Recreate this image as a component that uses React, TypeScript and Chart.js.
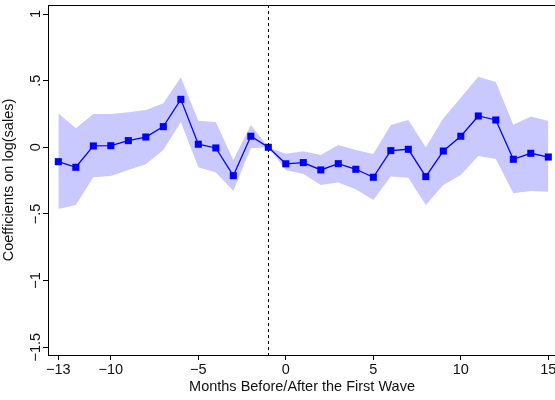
import React, { useEffect, useRef } from "react";
import { Chart, registerables } from "chart.js";

Chart.register(...registerables);

const months = [-13, -12, -11, -10, -9, -8, -7, -6, -5, -4, -3, -2, -1, 0, 1, 2, 3, 4, 5, 6, 7, 8, 9, 10, 11, 12, 13, 14, 15];
const coef = [-0.108, -0.15, 0.01, 0.012, 0.05, 0.077, 0.155, 0.36, 0.023, -0.005, -0.213, 0.083, 0, -0.124, -0.115, -0.17, -0.123, -0.165, -0.225, -0.025, -0.015, -0.22, -0.028, 0.083, 0.235, 0.205, -0.09, -0.045, -0.073];
const ciUpper = [0.255, 0.143, 0.25, 0.25, 0.263, 0.28, 0.33, 0.525, 0.2, 0.19, -0.095, 0.167, 0, -0.048, -0.03, -0.058, 0.017, -0.02, -0.05, 0.167, 0.205, 0.0, 0.218, 0.372, 0.53, 0.49, 0.17, 0.232, 0.197];
const ciLower = [-0.463, -0.433, -0.225, -0.215, -0.17, -0.128, -0.02, 0.19, -0.15, -0.19, -0.326, -0.008, 0, -0.17, -0.2, -0.283, -0.265, -0.315, -0.395, -0.22, -0.228, -0.433, -0.283, -0.208, -0.065, -0.088, -0.345, -0.328, -0.333];
const xTickValues = [-13, -10, -5, 0, 5, 10, 15];
const xTickLabels = ["\u221213", "\u221210", "\u22125", "0", "5", "10", "15"];
const yTickValues = [1, 0.5, 0, -0.5, -1, -1.5];
const yTickLabels = ["1", ".5", "0", "\u2212.5", "\u22121", "\u22121.5"];
const referenceMonth = -1;
const xTitle = "Months Before/After the First Wave";
const yTitle = "Coefficients on log(sales)";

const FONT_FAMILY = '"Liberation Sans", Arial, Helvetica, sans-serif';
const FONT_SIZE = 14.5;
const TEXT_COLOR = "#111";

export default function App() {
  const ref = useRef<HTMLCanvasElement | null>(null);

  useEffect(() => {
    const canvas = ref.current;
    if (!canvas) return;

    const pts = (arr: number[]) => months.map((m, i) => ({ x: m, y: arr[i] }));

    const overlay = {
      id: "overlay",
      afterDatasetsDraw(chart: any) {
        const { ctx, chartArea, scales } = chart;
        const xs = scales.x;
        ctx.save();
        const px = Math.round(xs.getPixelForValue(referenceMonth)) + 0.5;
        ctx.strokeStyle = "#000";
        ctx.lineWidth = 1;
        ctx.setLineDash([3, 3]);
        ctx.beginPath();
        ctx.moveTo(px, chartArea.top);
        ctx.lineTo(px, chartArea.bottom);
        ctx.stroke();
        ctx.setLineDash([]);
        ctx.restore();
      },
      afterDraw(chart: any) {
        const { ctx, scales } = chart;
        const ys = scales.y;
        ctx.save();
        ctx.font = FONT_SIZE + "px " + FONT_FAMILY;
        ctx.fillStyle = TEXT_COLOR;
        ctx.textAlign = "center";
        ctx.textBaseline = "middle";
        yTickValues.forEach((v, i) => {
          const py = ys.getPixelForValue(v);
          ctx.save();
          ctx.translate(36, py);
          ctx.rotate(-Math.PI / 2);
          ctx.fillText(yTickLabels[i], 0, 0);
          ctx.restore();
        });
        ctx.restore();
      },
    };

    const chart = new Chart(canvas, {
      type: "line",
      data: {
        datasets: [
          {
            label: "coef",
            data: pts(coef),
            borderColor: "#0000ff",
            backgroundColor: "#0000ff",
            borderWidth: 1.3,
            pointStyle: "rect",
            pointRadius: 5,
            pointBorderWidth: 0,
            pointBackgroundColor: "#0000ff",
            tension: 0,
            fill: false,
          },
          {
            label: "upper",
            data: pts(ciUpper),
            borderWidth: 0,
            borderColor: "rgba(0,0,0,0)",
            pointRadius: 0,
            tension: 0,
            fill: "+1",
            backgroundColor: "rgba(0,0,255,0.21)",
          },
          {
            label: "lower",
            data: pts(ciLower),
            borderWidth: 0,
            borderColor: "rgba(0,0,0,0)",
            pointRadius: 0,
            tension: 0,
            fill: false,
          },
        ],
      },
      options: {
        responsive: false,
        animation: false,
        devicePixelRatio: 1,
        layout: { padding: { top: 5, right: 44, bottom: 0, left: 0 } },
        plugins: {
          legend: { display: false },
          tooltip: { enabled: false },
        },
        scales: {
          x: {
            type: "linear",
            position: "bottom",
            min: -13.59,
            max: 15.44,
            afterBuildTicks: (scale: any) => {
              scale.ticks = xTickValues.map((v) => ({ value: v }));
            },
            afterFit: (scale: any) => {
              scale.height = 45;
            },
            ticks: {
              autoSkip: false,
              maxRotation: 0,
              minRotation: 0,
              padding: 1,
              color: TEXT_COLOR,
              font: { family: FONT_FAMILY, size: FONT_SIZE },
              callback: (v: any) => {
                const i = xTickValues.indexOf(Number(v));
                return i >= 0 ? xTickLabels[i] : "";
              },
            },
            grid: {
              display: true,
              drawOnChartArea: false,
              drawTicks: true,
              tickLength: 5,
              color: "#000",
              lineWidth: 1,
            },
            border: { display: true, color: "#000", width: 1 },
            title: {
              display: true,
              text: xTitle,
              color: TEXT_COLOR,
              font: { family: FONT_FAMILY, size: FONT_SIZE },
              padding: { top: 0, bottom: 4 },
            },
          },
          xTop: {
            type: "linear",
            position: "top",
            min: -13.59,
            max: 15.44,
            afterFit: (scale: any) => {
              scale.height = 0;
            },
            ticks: { display: false },
            grid: { display: false },
            border: { display: true, color: "#000", width: 1 },
          },
          y: {
            type: "linear",
            position: "left",
            min: -1.559,
            max: 1.068,
            afterBuildTicks: (scale: any) => {
              scale.ticks = yTickValues.map((v) => ({ value: v }));
            },
            afterFit: (scale: any) => {
              scale.width = 48;
            },
            ticks: { display: false },
            grid: {
              display: true,
              drawOnChartArea: false,
              drawTicks: true,
              tickLength: 5,
              color: "#000",
              lineWidth: 1,
            },
            border: { display: true, color: "#000", width: 1 },
            title: {
              display: true,
              text: yTitle,
              color: TEXT_COLOR,
              font: { family: FONT_FAMILY, size: FONT_SIZE },
              padding: { top: 0, bottom: 0 },
            },
          },
        },
      } as any,
      plugins: [overlay],
    });

    return () => chart.destroy();
  }, []);

  return (
    <div style={{ position: "fixed", left: 0, top: 0, width: 555, height: 400, overflow: "hidden", background: "#fff" }}>
      <canvas ref={ref} width={600} height={400} style={{ display: "block", width: 600, height: 400 }} />
    </div>
  );
}
